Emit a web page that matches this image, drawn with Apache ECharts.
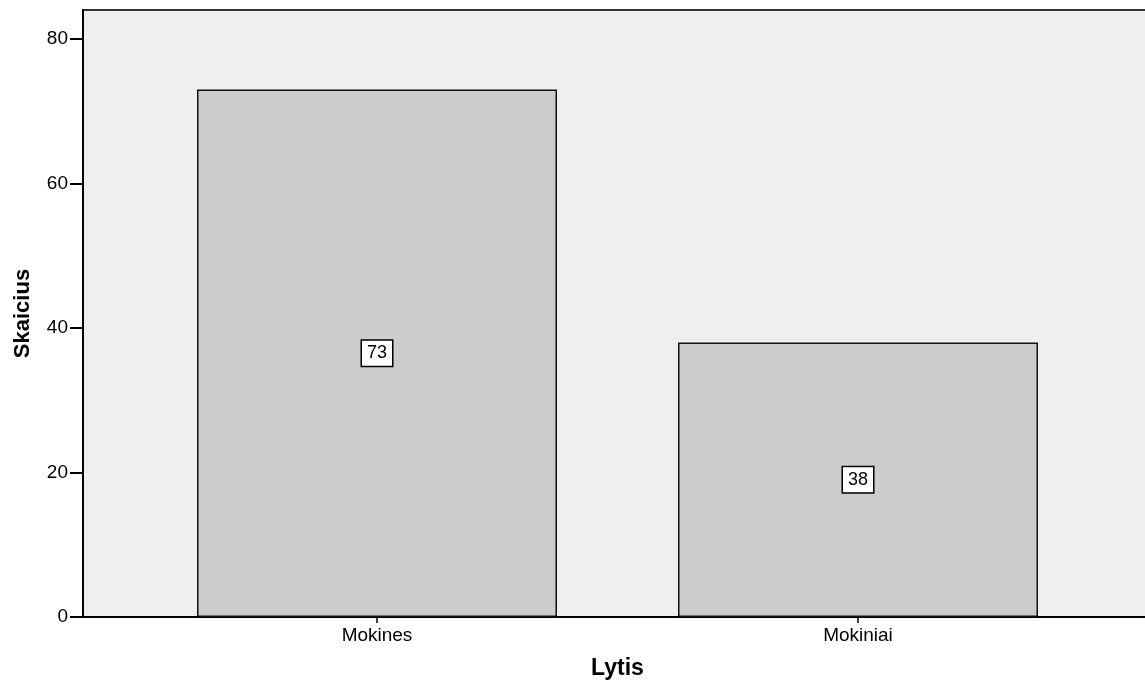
<!DOCTYPE html>
<html><head><meta charset="utf-8">
<script src="https://cdn.jsdelivr.net/npm/echarts@6/dist/echarts.min.js"></script>
<style>html,body{margin:0;padding:0;background:#fff}#c{width:1145px;height:682px}</style>
</head><body><div id="c"></div>
<script>
const categories = ["Mokines", "Mokiniai"];
const counts = [73, 38];
const yTicks = [0, 20, 40, 60, 80];
const yMax = 84;
const xTitle = "Lytis";
const yTitle = "Skaicius";

const font = "'Liberation Sans', Arial, sans-serif";
const chart = echarts.init(document.getElementById('c'));
chart.setOption({
  animation: false,
  grid: [
    {left: 83, width: 1069, top: 10, bottom: 65, outerBoundsMode: 'none', containLabel: false, show: true, backgroundColor: '#efefef', borderColor: '#333', borderWidth: 2},
    {left: 136.5, width: 962, top: 10, bottom: 65, outerBoundsMode: 'none', containLabel: false}
  ],
  xAxis: [
    {gridIndex: 0, type: 'value', min: 0, max: 1, show: true, axisLine: {show: true, onZero: false, lineStyle: {color: '#000', width: 2}}, axisTick: {show: false}, axisLabel: {show: false}, splitLine: {show: false},
     name: xTitle, nameLocation: 'middle', nameGap: 40, nameTextStyle: {fontFamily: font, fontWeight: 'bold', fontSize: 23, color: '#000'}},
    {gridIndex: 1, type: 'category', data: categories, axisLine: {show: false}, axisTick: {show: true, alignWithLabel: true, length: 6, lineStyle: {color: '#000', width: 1.5}},
     axisLabel: {fontFamily: font, fontSize: 19, color: '#000', margin: 9}}
  ],
  yAxis: [
    {gridIndex: 0, type: 'value', min: 0, max: yMax, interval: 20, axisLine: {show: true, lineStyle: {color: '#000', width: 2}},
     axisTick: {show: true, length: 13, customValues: yTicks, lineStyle: {color: '#000', width: 2}}, splitLine: {show: false},
     axisLabel: {fontFamily: font, fontSize: 19, color: '#000', margin: 15, customValues: yTicks},
     name: yTitle, nameLocation: 'middle', nameGap: 49, nameRotate: 90, nameTextStyle: {fontFamily: font, fontWeight: 'bold', fontSize: 22, color: '#000'}},
    {gridIndex: 1, type: 'value', min: 0, max: yMax, show: false}
  ],
  series: [{
    type: 'bar', xAxisIndex: 1, yAxisIndex: 1, data: counts, barWidth: 360,
    itemStyle: {color: '#cccccc', borderColor: '#111', borderWidth: 1.5},
    label: {show: true, position: 'inside', fontFamily: font, fontSize: 18, color: '#000', backgroundColor: '#fff', borderColor: '#000', borderWidth: 1.5, padding: [4, 5, 3, 5]}
  }]
});
</script></body></html>
